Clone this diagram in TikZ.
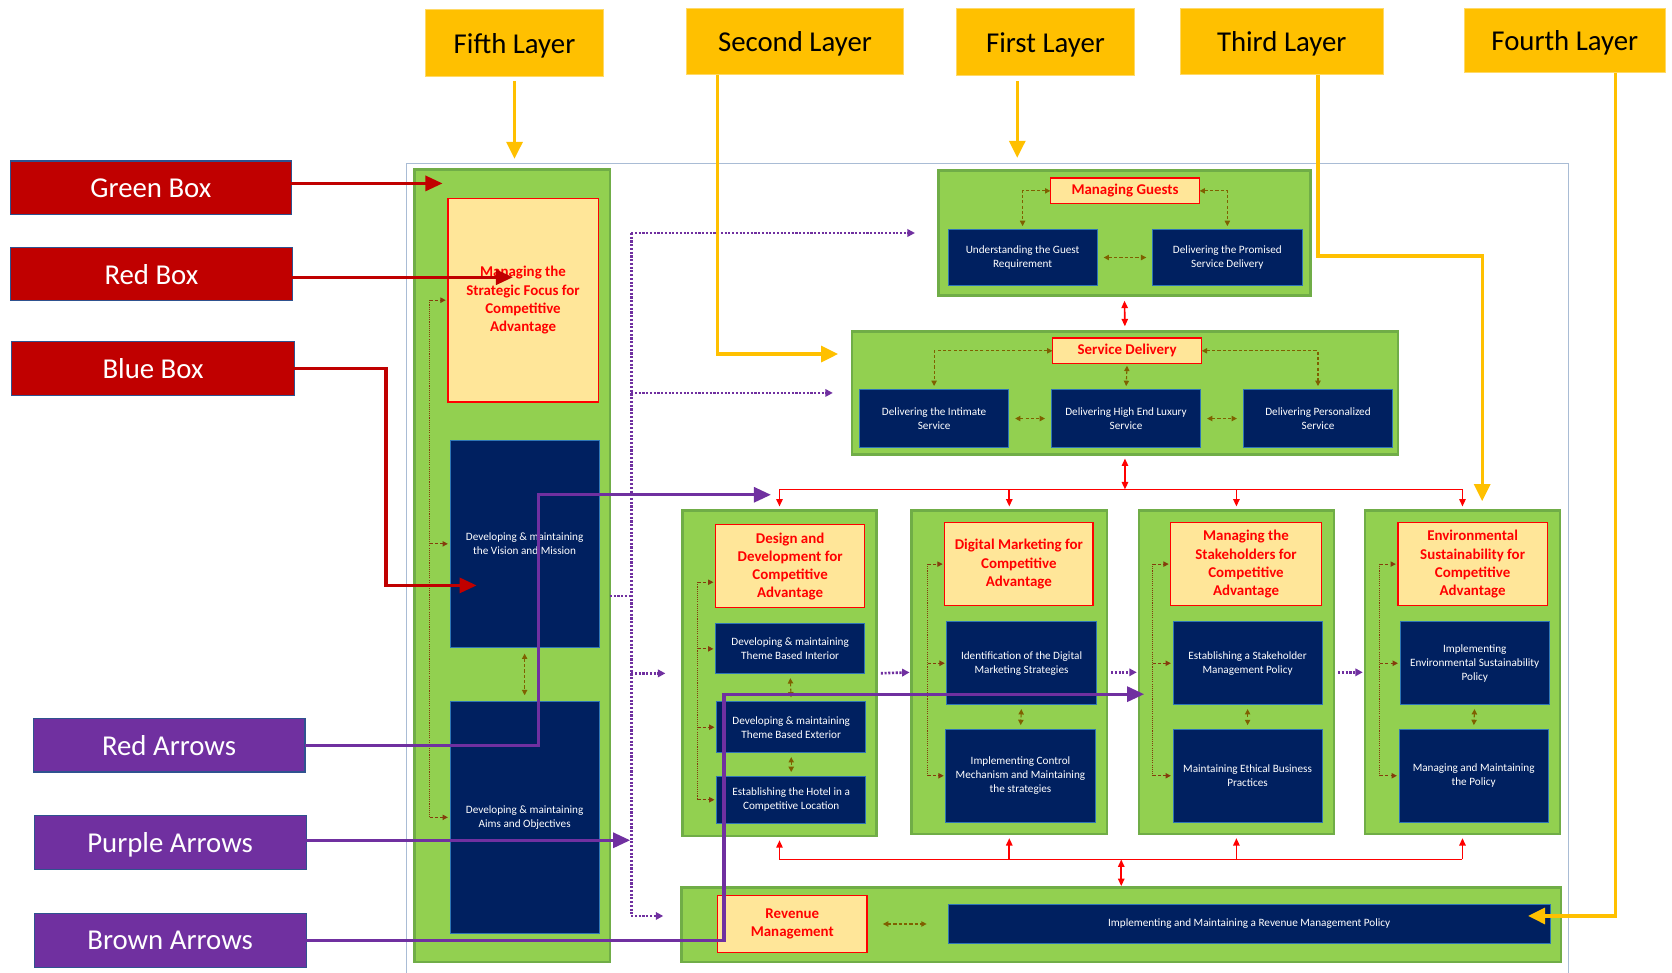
\documentclass[tikz,border=0pt]{standalone}
\usepackage{fontspec}
\setmainfont{Carlito}
\usetikzlibrary{arrows.meta}
\definecolor{layeryellow}{HTML}{FFC000}
\definecolor{legendred}{HTML}{C00000}
\definecolor{legendpurple}{HTML}{7030A0}
\definecolor{legendedge}{HTML}{2F528F}
\definecolor{boxgreen}{HTML}{92D050}
\definecolor{edgegreen}{HTML}{70AD47}
\definecolor{headyellow}{HTML}{FFE699}
\definecolor{boxblue}{HTML}{002060}
\definecolor{edgeblue}{HTML}{2E75B6}
\definecolor{framegrey}{HTML}{A9BCD5}
\definecolor{brownA}{HTML}{7F6000}
\definecolor{brownB}{HTML}{843C0C}
\begin{document}
\begin{tikzpicture}[x=1pt,y=-1pt,
	every node/.style={inner sep=0pt,outer sep=0pt,align=center},
	layer/.style={fill=layeryellow,draw=layeryellow!60!white,line width=0.8pt,text depth=0pt,font=\fontsize{27}{32}\selectfont},
	legred/.style={fill=legendred,draw=legendedge,line width=1pt,text=white,text depth=0pt,font=\fontsize{27}{32}\selectfont},
	legpurple/.style={fill=legendpurple,draw=legendedge,line width=1pt,text=white,text depth=0pt,font=\fontsize{27}{32}\selectfont},
	frame/.style={draw=framegrey,line width=1pt},
	greenbox/.style={fill=boxgreen,draw=edgegreen,line width=2.5pt},
	headbox/.style={fill=headyellow,draw=red,line width=1.2pt,text=red,font=\bfseries\fontsize{14}{17}\selectfont},
	bluebox/.style={fill=boxblue,draw=edgeblue,line width=0.8pt,text=white,font=\fontsize{10.5}{13}\selectfont},
	yarrow/.style={draw=layeryellow,line width=3pt,-{Triangle[length=16pt,width=15pt]}},
	legarrow/.style={draw=legendred,line width=3pt,-{Triangle[length=16pt,width=14pt]}},
	legparrow/.style={draw=legendpurple,line width=3pt,-{Triangle[length=16pt,width=14pt]}},
	redline/.style={draw=red,line width=1.5pt},
	redarrow/.style={redline,-{Triangle[length=7pt,width=6pt]}},
	reddouble/.style={redline,{Triangle[length=7pt,width=6pt]}-{Triangle[length=7pt,width=6pt]}},
	brownlink/.style={draw=brownA,line width=1pt,dash pattern=on 3pt off 2pt,{Triangle[length=5pt,width=5pt]}-{Triangle[length=5pt,width=5pt]}},
	brownbracket/.style={draw=brownB,line width=0.8pt,dash pattern=on 1pt off 1pt},
	browntick/.style={draw=brownB,line width=1pt,dash pattern=on 3pt off 2pt,-{Triangle[length=5pt,width=5pt]},shorten >=2pt},
	purpledot/.style={draw=legendpurple,line width=2.5pt,dash pattern=on 2pt off 1.5pt},
	purplearrow/.style={purpledot,-{Triangle[length=7pt,width=7pt]}}]
	\useasboundingbox (0,0) rectangle (1568,912);

	% layer labels
	\node[layer,minimum width=167,minimum height=63] at (482.5,40.5) (lay5) {Fifth Layer};
	\node[layer,minimum width=203,minimum height=62] at (745.5,39) (lay2) {Second Layer};
	\node[layer,minimum width=167,minimum height=63] at (980.5,39.5) (lay1) {First Layer};
	\node[layer,minimum width=190,minimum height=62] at (1202,39) (lay3) {Third Layer};
	\node[layer,minimum width=189,minimum height=60] at (1467.5,38) (lay4) {Fourth Layer};

	% legend
	\node[legred,minimum width=263,minimum height=50] at (141.5,176) (gb) {Green Box};
	\node[legred,minimum width=264,minimum height=50] at (142,257) (rb) {Red Box};
	\node[legred,minimum width=265,minimum height=51] at (143.5,345.5) (bb) {Blue Box};
	\node[legpurple,minimum width=255,minimum height=50] at (158.5,699) (ra) {Red Arrows};
	\node[legpurple,minimum width=255,minimum height=50] at (159.5,790) (pa) {Purple Arrows};
	\node[legpurple,minimum width=255,minimum height=50] at (159.5,882) (ba) {Brown Arrows};

	\node[frame,minimum width=1090,minimum height=780] at (926,543) (fr) {};

	% fifth layer
	\node[greenbox,minimum width=183,minimum height=743] at (480.5,530.5) (f5) {};
	\node[headbox,minimum width=141,minimum height=191] at (490.5,281.5) (sf) {Managing the\\Strategic Focus for\\Competitive\\Advantage};
	\node[bluebox,minimum width=140,minimum height=194] at (492,510) (vm) {Developing \& maintaining\\the Vision and Mission};
	\node[bluebox,minimum width=140,minimum height=217] at (492,766.5) (ao) {Developing \& maintaining\\Aims and Objectives};

	% first layer
	\node[greenbox,minimum width=349,minimum height=117] at (1054.5,218.5) (L1) {};
	\node[headbox,minimum width=140,minimum height=24] at (1055,179) (mg) {Managing Guests};
	\node[bluebox,minimum width=140,minimum height=53] at (959,241.5) (ug) {Understanding the Guest\\Requirement};
	\node[bluebox,minimum width=140,minimum height=53] at (1151,241.5) (dps) {Delivering the Promised\\Service Delivery};

	% second layer
	\node[greenbox,minimum width=512,minimum height=115] at (1055,368.5) (L2) {};
	\node[headbox,minimum width=140,minimum height=24] at (1057,329) (sd) {Service Delivery};
	\node[bluebox,minimum width=140,minimum height=55] at (876,392.5) (di) {Delivering the Intimate\\Service};
	\node[bluebox,minimum width=140,minimum height=55] at (1056,392.5) (dh) {Delivering High End Luxury\\Service};
	\node[bluebox,minimum width=140,minimum height=55] at (1236,392.5) (dp) {Delivering Personalized\\Service};

	% third layer
	\node[greenbox,minimum width=182,minimum height=305] at (731,631.5) (c1) {};
	\node[headbox,minimum width=140,minimum height=78] at (741,531) (h1) {Design and\\Development for\\Competitive\\Advantage};
	\node[bluebox,minimum width=140,minimum height=47] at (741,608.5) (i1) {Developing \& maintaining\\Theme Based Interior};
	\node[bluebox,minimum width=140,minimum height=48] at (742,682) (e1) {Developing \& maintaining\\Theme Based Exterior};
	\node[bluebox,minimum width=140,minimum height=44] at (742,750) (l1) {Establishing the Hotel in a\\Competitive Location};

	\node[greenbox,minimum width=183,minimum height=303] at (946.5,630.5) (c2) {};
	\node[headbox,minimum width=139,minimum height=78] at (955.5,529) (h2) {Digital Marketing for\\Competitive\\Advantage};
	\node[bluebox,minimum width=140,minimum height=78] at (958,622) (s2) {Identification of the Digital\\Marketing Strategies};
	\node[bluebox,minimum width=140,minimum height=87] at (957,727.5) (m2) {Implementing Control\\Mechanism and Maintaining\\the strategies};

	\node[greenbox,minimum width=183,minimum height=303] at (1159.5,630.5) (c3) {};
	\node[headbox,minimum width=141,minimum height=78] at (1168.5,529) (h3) {Managing the\\Stakeholders for\\Competitive\\Advantage};
	\node[bluebox,minimum width=140,minimum height=78] at (1170,622) (s3) {Establishing a Stakeholder\\Management Policy};
	\node[bluebox,minimum width=140,minimum height=87] at (1170,727.5) (m3) {Maintaining Ethical Business\\Practices};

	\node[greenbox,minimum width=183,minimum height=303] at (1371.5,630.5) (c4) {};
	\node[headbox,minimum width=140,minimum height=78] at (1381,529) (h4) {Environmental\\Sustainability for\\Competitive\\Advantage};
	\node[bluebox,minimum width=140,minimum height=78] at (1383,622) (s4) {Implementing\\Environmental Sustainability\\Policy};
	\node[bluebox,minimum width=140,minimum height=87] at (1382,727.5) (m4) {Managing and Maintaining\\the Policy};

	% fourth layer
	\node[greenbox,minimum width=825,minimum height=70] at (1051.5,867) (rev) {};
	\node[headbox,minimum width=140,minimum height=53] at (743,866.5) (rm) {Revenue\\Management};
	\node[bluebox,minimum width=565,minimum height=37] at (1171.5,866.5) (rp) {Implementing and Maintaining a Revenue Management Policy};

	% brown links
	\draw[brownlink,shorten >=3pt]	(mg.west) -| (ug.north);
	\draw[brownlink,shorten >=3pt]	(mg.east) -| (dps.north);
	\draw[brownlink,shorten <=6pt,shorten >=6pt]	(ug.east) -- (dps.west);
	\draw[brownlink,shorten >=3pt]	(sd.west) -| (di.north);
	\draw[brownlink,shorten >=3pt]	(sd.east) -| (dp.north);
	\draw[brownlink,shorten <=2pt,shorten >=3pt]	(sd.south) -- (dh.north);
	\draw[brownlink,shorten <=6pt,shorten >=6pt]	(di.east) -- (dh.west);
	\draw[brownlink,shorten <=6pt,shorten >=6pt]	(dh.east) -- (dp.west);
	\draw[brownlink,shorten <=6pt,shorten >=6pt]	(vm.south) -- (ao.north);
	\draw[brownlink,shorten <=4pt,shorten >=4pt]	(i1.south) -- (e1.north);
	\draw[brownlink,shorten <=4pt,shorten >=4pt]	(e1.south) -- (l1.north);
	\draw[brownlink,shorten <=4pt,shorten >=4pt]	(s2.south) -- (m2.north);
	\draw[brownlink,shorten <=4pt,shorten >=4pt]	(s3.south) -- (m3.north);
	\draw[brownlink,shorten <=4pt,shorten >=4pt]	(s4.south) -- (m4.north);
	\draw[brownlink,shorten <=15pt,shorten >=20pt]	(rm.east) -- (rp.west);

	% brown brackets
	\coordinate (k5) at (403,0);
	\draw[brownbracket]	(sf.west -| k5) -- (ao.west -| k5);
	\draw[browntick]	(sf.west -| k5) -- (sf.west);
	\draw[browntick]	(vm.west -| k5) -- (vm.west);
	\draw[browntick]	(ao.west -| k5) -- (ao.west);
	\coordinate (t1) at (654,546);
	\draw[brownbracket]	(t1) -- (t1 |- l1.west);
	\draw[browntick]	(t1) -- (t1 -| h1.west);
	\draw[browntick]	(t1 |- i1.west) -- (i1.west);
	\draw[browntick]	(t1 |- e1.west) -- (e1.west);
	\draw[browntick]	(t1 |- l1.west) -- (l1.west);
	\coordinate (k2) at (870,0);
	\draw[brownbracket]	(h2.west -| k2) -- (m2.west -| k2);
	\draw[browntick]	(h2.west -| k2) -- (h2.west);
	\draw[browntick]	(s2.west -| k2) -- (s2.west);
	\draw[browntick]	(m2.west -| k2) -- (m2.west);
	\coordinate (k3) at (1081,0);
	\draw[brownbracket]	(h3.west -| k3) -- (m3.west -| k3);
	\draw[browntick]	(h3.west -| k3) -- (h3.west);
	\draw[browntick]	(s3.west -| k3) -- (s3.west);
	\draw[browntick]	(m3.west -| k3) -- (m3.west);
	\coordinate (k4) at (1294,0);
	\draw[brownbracket]	(h4.west -| k4) -- (m4.west -| k4);
	\draw[browntick]	(h4.west -| k4) -- (h4.west);
	\draw[browntick]	(s4.west -| k4) -- (s4.west);
	\draw[browntick]	(m4.west -| k4) -- (m4.west);

	% red links
	\coordinate (bt) at (1053,459);
	\coordinate (bl) at (1056,806);
	\draw[reddouble,shorten <=5pt,shorten >=5pt]	(L1.south) -- (L2.north);
	\draw[reddouble,shorten <=4pt]	(L2.south) -- (L2.south |- bt);
	\draw[redline]	(c1.north |- bt) -- (c4.north |- bt);
	\draw[redarrow,shorten >=4pt]	(c1.north |- bt) -- (c1.north);
	\draw[redarrow,shorten >=4pt]	(c2.north |- bt) -- (c2.north);
	\draw[redarrow,shorten >=4pt]	(c3.north |- bt) -- (c3.north);
	\draw[redarrow,shorten >=4pt]	(c4.north |- bt) -- (c4.north);
	\draw[redline]	(c1.south |- bl) -- (c4.south |- bl);
	\draw[redarrow,shorten >=4pt]	(c1.south |- bl) -- (c1.south);
	\draw[redarrow,shorten >=4pt]	(c2.south |- bl) -- (c2.south);
	\draw[redarrow,shorten >=4pt]	(c3.south |- bl) -- (c3.south);
	\draw[redarrow,shorten >=4pt]	(c4.south |- bl) -- (c4.south);
	\draw[reddouble,shorten >=1pt]	(rev.north |- bl) -- (rev.north);

	% purple links
	\coordinate (pj) at (592,559);
	\draw[purpledot]	(f5.east |- pj) -- (pj);
	\draw[purpledot]	(pj |- L1.west) -- ([yshift=8pt]pj |- rev.west);
	\draw[purplearrow,shorten >=22pt]	(pj |- L1.west) -- (L1.west);
	\draw[purplearrow,shorten >=18pt]	(pj |- L2.west) -- (L2.west);
	\draw[purplearrow,shorten >=16pt]	(pj |- c1.west) -- (c1.west);
	\draw[purplearrow,shorten >=17pt]	([yshift=8pt]pj |- rev.west) -- ([yshift=8pt]rev.west);
	\draw[purplearrow,shorten <=4pt,shorten >=2pt]	(c1.east) -- (c2.west);
	\draw[purplearrow,shorten <=4pt,shorten >=2pt]	(c2.east) -- (c3.west);
	\draw[purplearrow,shorten <=4pt,shorten >=2pt]	(c3.east) -- (c4.west);

	% layer arrows
	\coordinate (y1) at (954,148);
	\coordinate (y2a) at (673,332);
	\coordinate (y2b) at (786,332);
	\coordinate (y3a) at (1236,240);
	\coordinate (y3b) at (1390,240);
	\coordinate (y3c) at (1390,470);
	\coordinate (y4a) at (1515,859);
	\coordinate (y4b) at (1433,859);
	\draw[yarrow,shorten <=4pt,shorten >=4pt]	(lay5.south) -- (lay5.south |- fr.north);
	\draw[yarrow,shorten <=5pt]	(lay1.south -| y1) -- (y1);
	\draw[yarrow]	(lay2.south -| y2a) -- (y2a) -- (y2b);
	\draw[yarrow]	(lay3.south -| y3a) -- (y3a) -- (y3b) -- (y3c);
	\draw[yarrow]	(lay4.south -| y4a) -- (y4a) -- (y4b);

	% legend arrows
	\coordinate (gbe) at (415,172);
	\coordinate (rbe) at (481,260);
	\coordinate (bbk) at (362,549);
	\coordinate (bbe) at (447,549);
	\coordinate (rak) at (505,464);
	\coordinate (rae) at (723,464);
	\coordinate (pae) at (591,788);
	\coordinate (bak) at (679,651);
	\coordinate (bae) at (1073,651);
	\draw[legarrow]	(gb.east |- gbe) -- (gbe);
	\draw[legarrow]	(rb.east |- rbe) -- (rbe);
	\draw[legarrow]	(bb.east) -| (bbk) -- (bbe);
	\draw[legparrow]	(ra.east) -| (rak) -- (rae);
	\draw[legparrow]	(pa.east |- pae) -- (pae);
	\draw[legparrow]	(ba.east) -| (bak) -- (bae);
\end{tikzpicture}
\end{document}
